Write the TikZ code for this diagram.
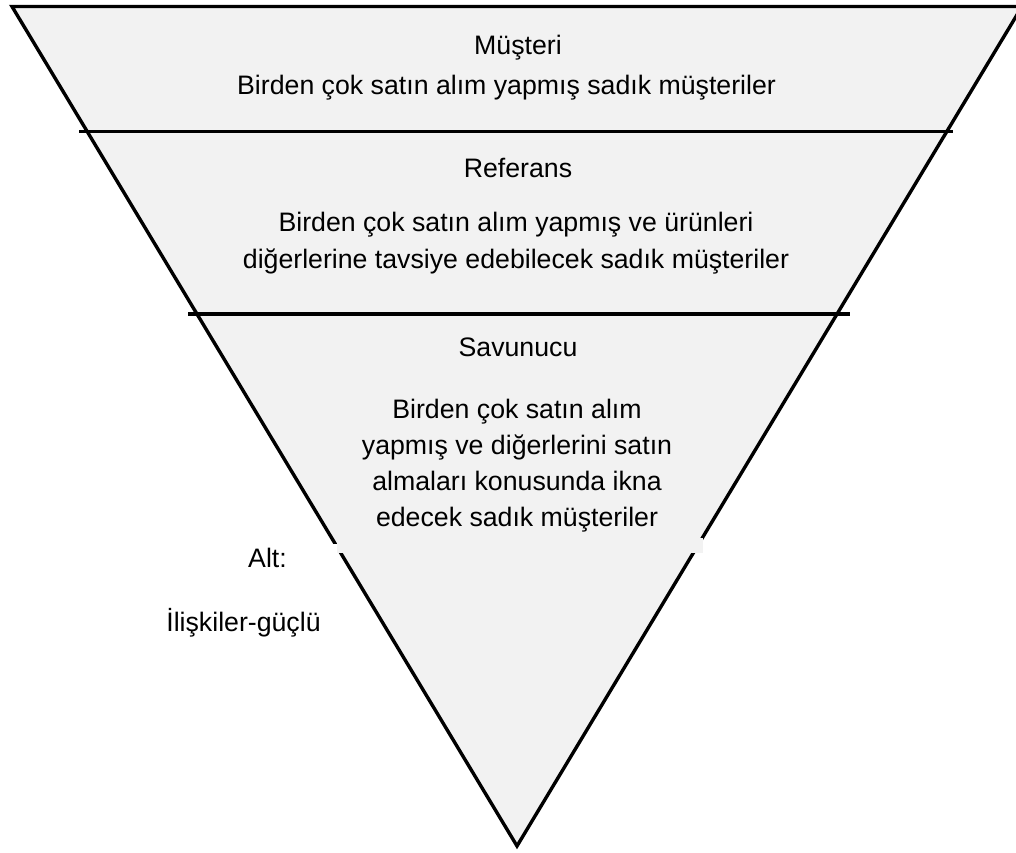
\documentclass[tikz,border=0pt]{standalone}
\usepackage{fontspec}
\setmainfont{Liberation Sans}
\definecolor{funnelgrey}{HTML}{F2F2F2}
\tikzset{
  edge/.style={line width=3.4pt, line join=miter, draw=black},
  txt/.style={anchor=base, inner sep=0pt, font=\fontsize{26.7}{36.5}\selectfont},
}
\begin{document}
\begin{tikzpicture}[x=1pt,y=-1pt]
\useasboundingbox (0,0) rectangle (1016,852);
\clip (0,0) rectangle (1016,852);
\coordinate (tl) at (12,6.5);
\coordinate (tr) at (1022,6.5);
\coordinate (bt) at (517,846);
\fill[funnelgrey] (tl) -- (tr) -- (bt) -- cycle;
\draw[edge] (tl) -- (tr) -- (bt) -- cycle;
\coordinate (a1) at (79,131.5);
\coordinate (a2) at (953,131.5);
\coordinate (b1) at (188,314);
\coordinate (b2) at (850,314);
\draw[edge] (a1) -- (a2);
\draw[edge] (b1) -- (b2);
% text box patches over the edges
\fill[funnelgrey] (337,538) rectangle (703,553);
\fill[white] (328,544) rectangle (337,553);
% texts
\node[txt] (t1) at (518,54.5) {Müşteri};
\node[txt] (t2) at (506.5,94.5) {Birden çok satın alım yapmış sadık müşteriler};
\node[txt] (t3) at (518,177.5) {Referans};
\node[txt] (t4) at (516,231.5) {Birden çok satın alım yapmış ve ürünleri};
\node[txt] (t5) at (516,268.5) {diğerlerine tavsiye edebilecek sadık müşteriler};
\node[txt] (t6) at (518,356.5) {Savunucu};
\node[txt] (t7) at (517,418.5) {Birden çok satın alım};
\node[txt] (t8) at (517,454.5) {yapmış ve diğerlerini satın};
\node[txt] (t9) at (517,490.5) {almaları konusunda ikna};
\node[txt] (t10) at (517,526.5) {edecek sadık müşteriler};
\node[txt] (t11) at (267.5,567.5) {Alt:};
\node[txt] (t12) at (243.5,631.5) {İlişkiler-güçlü};
\end{tikzpicture}
\end{document}
